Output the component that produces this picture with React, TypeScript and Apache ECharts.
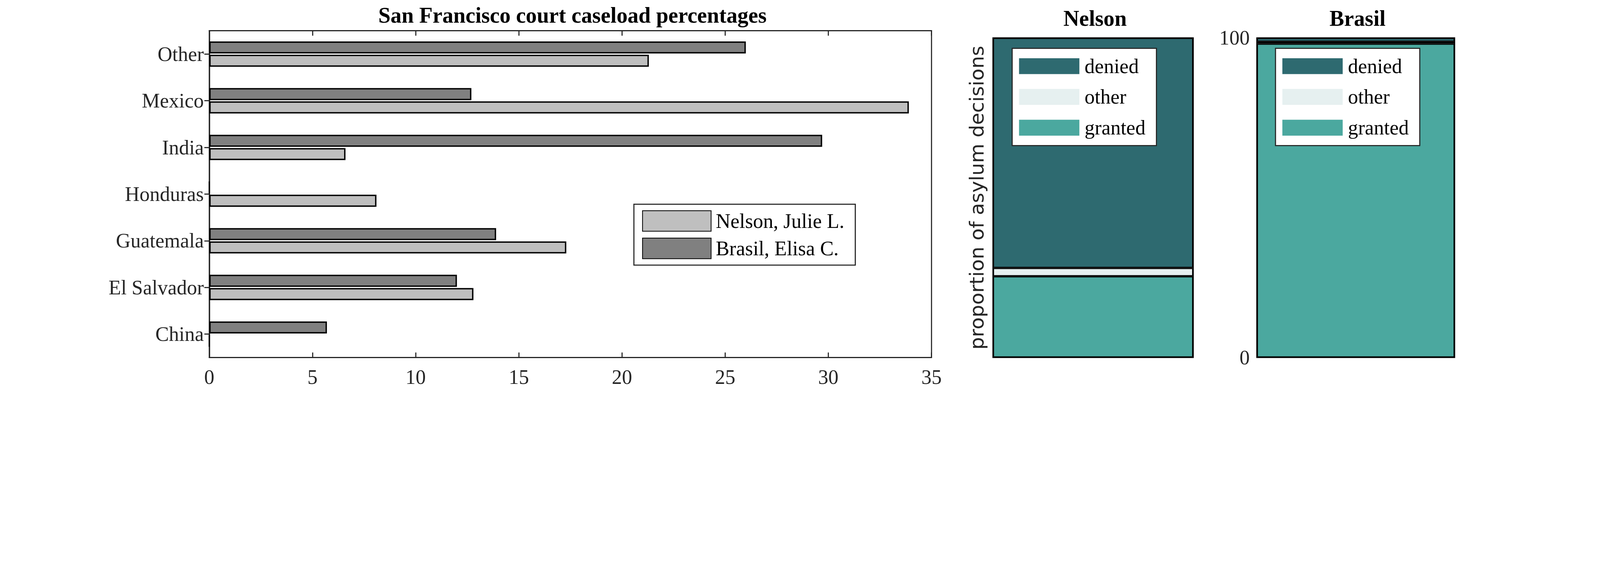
import React, { useEffect, useRef } from 'react';
import * as echarts from 'echarts';

const countries = ['China', 'El Salvador', 'Guatemala', 'Honduras', 'India', 'Mexico', 'Other'];
const nelsonPct = [0, 12.8, 17.3, 8.1, 6.6, 33.9, 21.3];
const brasilPct = [5.7, 12.0, 13.9, 0, 29.7, 12.7, 26.0];
const xTicks = [0, 5, 10, 15, 20, 25, 30, 35];

const outcomes = ['granted', 'other', 'denied'];
const nelsonOutcome = [25.4, 2.6, 72.0];
const brasilOutcome = [98.2, 0.6, 1.2];
const outcomeColors = ['#4BA89F', '#E6F0F0', '#2E6A70'];

const FONT = 'Liberation Sans Narrow';

const App = () => {
  const chartRef = useRef(null);

  useEffect(() => {
    document.body.style.margin = '0';
    const el = chartRef.current as any;
    const myChart = echarts.init(el, null, { renderer: 'svg' });
    // layout was measured on the 5833 px reference; scale to the real width
    const s = el.clientWidth / 5833;
    const p = (v: number) => v * s;
    const FS = p(74);

    const axisLine = { show: true, lineStyle: { color: '#262626', width: p(4) } };
    const inTick = { show: true, inside: true, length: p(18), lineStyle: { color: '#262626', width: p(4) } };

    const stackSeries = (vals: number[], idx: number) =>
      outcomes.map((name, i) => ({
        name,
        type: 'bar',
        stack: 'p' + idx,
        xAxisIndex: 2 + idx,
        yAxisIndex: 2 + idx,
        barWidth: '100%',
        data: [vals[i]],
        itemStyle: { color: outcomeColors[i], borderColor: '#000', borderWidth: p(4) },
      }));

    const smallLegend = (left: number) => ({
      left: p(left),
      top: p(176),
      orient: 'vertical',
      data: ['denied', 'other', 'granted'],
      backgroundColor: '#fff',
      borderColor: '#262626',
      borderWidth: p(4),
      padding: [p(28), p(40), p(28), p(25)],
      itemWidth: p(220),
      itemHeight: p(58),
      itemGap: p(38),
      icon: 'rect',
      itemStyle: { borderWidth: 0 },
      textStyle: { fontFamily: FONT, fontSize: FS, color: '#000', padding: [0, 0, 0, p(12)] },
      selectedMode: false,
    });

    const titleStyle = { fontFamily: FONT, fontSize: p(80), fontWeight: 'bold', color: '#000' };

    const option = {
      animation: false,
      title: [
        { text: 'San Francisco court caseload percentages', left: p(2080), top: p(8), textAlign: 'center', textStyle: titleStyle },
        { text: 'Nelson', left: p(3985), top: p(20), textAlign: 'center', textStyle: titleStyle },
        { text: 'Brasil', left: p(4942), top: p(20), textAlign: 'center', textStyle: titleStyle },
      ],
      grid: [
        { left: p(763), top: p(112), width: p(2633), height: p(1190), show: true, borderColor: '#262626', borderWidth: p(4) },
        { left: p(3620), top: p(138), width: p(730), height: p(1164), show: true, borderColor: '#000', borderWidth: p(4) },
        { left: p(4582), top: p(138), width: p(721), height: p(1164), show: true, borderColor: '#000', borderWidth: p(4) },
      ],
      legend: [
        {
          left: p(2311), top: p(744), orient: 'vertical',
          data: ['Nelson, Julie L.', 'Brasil, Elisa C.'],
          backgroundColor: '#fff', borderColor: '#262626', borderWidth: p(4),
          padding: [p(22), p(40), p(22), p(30)],
          itemWidth: p(250), itemHeight: p(75), itemGap: p(22),
          icon: 'rect',
          textStyle: { fontFamily: FONT, fontSize: FS, color: '#000', padding: [0, 0, 0, p(10)] },
          selectedMode: false,
        },
        smallLegend(3690),
        smallLegend(4650),
      ],
      graphic: [
        { type: 'text', x: p(3525), y: p(720), rotation: Math.PI / 2,
          style: { text: 'proportion of asylum decisions', fontFamily: 'DejaVu Sans', fontSize: p(72),
            fill: '#262626', align: 'center', verticalAlign: 'top' } },
      ],
      xAxis: [
        { type: 'value', gridIndex: 0, min: 0, max: 35, interval: 5, axisLine, axisTick: inTick, splitLine: { show: false },
          axisLabel: { fontFamily: FONT, fontSize: FS, color: '#262626', margin: p(34),
            formatter: (v: number) => (xTicks.includes(v) ? String(v) : '') } },
        { type: 'value', gridIndex: 0, position: 'top', min: 0, max: 35, interval: 5, axisLine, axisTick: inTick,
          axisLabel: { show: false }, splitLine: { show: false } },
        { type: 'category', gridIndex: 1, data: ['Nelson'], show: false },
        { type: 'category', gridIndex: 2, data: ['Brasil'], show: false },
      ],
      yAxis: [
        { type: 'category', gridIndex: 0, data: countries, axisLine, axisTick: { show: false },
          axisLabel: { fontFamily: FONT, fontSize: FS, color: '#262626', margin: p(20) } },
        { type: 'category', gridIndex: 0, position: 'right', data: countries, axisLine,
          axisTick: { show: true, inside: true, alignWithLabel: true, length: p(18), lineStyle: { color: '#262626', width: p(4) } },
          axisLabel: { show: false } },
        { type: 'value', gridIndex: 1, min: 0, max: 100, axisLine: { show: false }, axisTick: { show: false },
          axisLabel: { show: false }, splitLine: { show: false } },
        { type: 'value', gridIndex: 2, min: 0, max: 100, interval: 100, axisLine: { show: false }, axisTick: { show: false },
          splitLine: { show: false },
          axisLabel: { fontFamily: FONT, fontSize: FS, color: '#262626', margin: p(26) } },
      ],
      series: [
        { name: 'Brasil, Elisa C.', type: 'bar', xAxisIndex: 0, yAxisIndex: 0, data: brasilPct,
          barWidth: p(44), barGap: '10%',
          itemStyle: { color: '#808080', borderColor: '#000', borderWidth: p(5) } },
        { name: 'Nelson, Julie L.', type: 'bar', xAxisIndex: 0, yAxisIndex: 0, data: nelsonPct,
          barWidth: p(44), barGap: '10%',
          itemStyle: { color: '#BFBFBF', borderColor: '#000', borderWidth: p(5) } },
        ...stackSeries(nelsonOutcome, 0),
        ...stackSeries(brasilOutcome, 1),
      ],
    };

    myChart.setOption(option);
    return () => {
      myChart.dispose();
    };
  }, []);

  return <div ref={chartRef} style={{ width: '100vw', height: '100vh' }} />;
};

export default App;
